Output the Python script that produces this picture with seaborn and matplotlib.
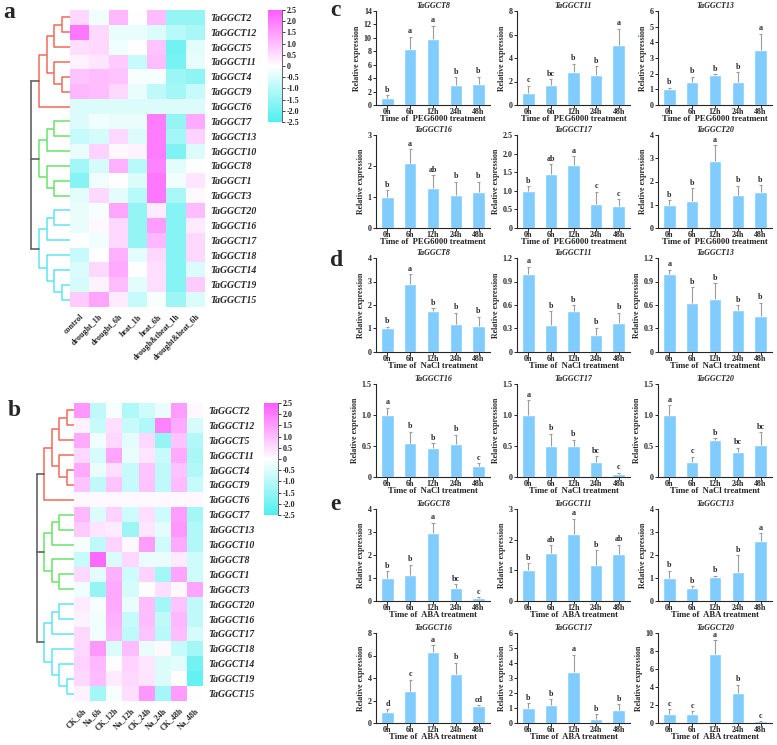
import numpy as np
import pandas as pd
import matplotlib
matplotlib.use("Agg")
import matplotlib.pyplot as plt
from matplotlib.colors import LinearSegmentedColormap
import seaborn as sns

# heatmap rows (display order)
genes = ["TaGGCT2", "TaGGCT12", "TaGGCT5", "TaGGCT11", "TaGGCT4", "TaGGCT9", "TaGGCT6",
         "TaGGCT7", "TaGGCT13", "TaGGCT10", "TaGGCT8", "TaGGCT1", "TaGGCT3",
         "TaGGCT20", "TaGGCT16", "TaGGCT17", "TaGGCT18", "TaGGCT14", "TaGGCT19", "TaGGCT15"]

cond_a = ["control", "drought_1h", "drought_6h", "heat_1h", "heat_6h",
          "drough&theat_1h", "drought&heat_6h"]
vals_a = [
    [0.6, -0.2, 1.1, 0.0, 1.0, -1.5, -1.5],
    [2.1, 0.6, -0.3, -0.3, -0.5, -1.0, -1.2],
    [0.5, 0.6, -0.2, 0.0, 0.9, -2.0, -0.4],
    [0.2, 0.4, 0.8, -0.8, 1.0, -1.9, -0.3],
    [0.9, 1.0, 0.9, -0.1, -0.1, -1.4, -1.6],
    [1.1, 1.0, 0.6, -0.3, -0.9, -1.3, -0.8],
    [-0.5, -0.5, -0.5, -0.5, -0.5, -0.5, -0.5],
    [-0.5, -0.2, -0.3, -0.3, 2.0, -1.5, 1.3],
    [-0.8, -0.6, 0.6, -0.5, 2.0, -1.3, 0.7],
    [-0.3, 0.7, 0.1, 0.2, 2.0, -1.8, -0.5],
    [-1.3, -0.6, 1.2, -1.0, 1.9, -0.4, 0.0],
    [-1.7, -0.2, 0.0, -0.5, 2.1, -0.2, 0.4],
    [-0.4, 0.6, -0.4, -1.0, 2.1, -1.2, 0.1],
    [-0.3, -0.1, 1.4, -1.5, 0.3, -1.7, 1.0],
    [-0.3, 0.1, 0.6, -1.5, 1.5, -1.7, 0.3],
    [0.0, -0.2, 0.6, -1.5, 1.1, -1.7, 0.6],
    [-0.8, 0.0, 1.2, -0.4, 0.6, -1.7, 0.6],
    [-0.5, 0.6, 1.3, 0.0, 0.5, -1.7, -0.5],
    [-0.6, 0.2, 1.0, -0.4, 0.5, -1.7, 0.8],
    [0.8, 1.4, 0.3, -0.8, -0.1, -1.4, -0.5],
]

cond_b = ["CK_6h", "Na_6h", "CK_12h", "Na_12h", "CK_24h", "Na_24h", "CK_48h", "Na_48h"]
vals_b = [
    [1.6, -0.9, -0.1, -1.1, -0.7, -0.3, 1.5, 0.1],
    [0.2, -0.8, 0.5, -0.8, -1.1, 1.9, 1.3, -0.6],
    [1.3, -0.2, 0.6, -0.4, 0.6, -1.5, 0.9, -1.1],
    [0.6, -0.6, 1.4, -0.3, 0.4, -0.8, 1.3, -1.2],
    [1.3, -0.3, 0.5, -0.8, 0.9, -0.9, 0.9, -1.1],
    [0.9, -0.9, 0.9, -0.8, 0.9, -0.9, 1.0, -0.8],
    [0.1, 0.1, 0.1, 0.1, 0.1, 0.1, 0.1, 0.1],
    [1.1, -0.5, 0.7, -0.7, 0.5, -0.7, 1.5, -1.3],
    [0.8, 0.4, 0.3, -1.4, 0.4, -0.4, 1.6, -1.1],
    [-0.1, -0.9, 0.7, 0.1, 1.5, -0.7, 1.3, -1.1],
    [-0.8, 2.3, -0.5, 0.6, -0.3, -0.3, 0.3, -0.7],
    [0.6, -0.4, 1.2, -0.7, 0.7, -1.3, 1.4, -0.7],
    [-0.2, -1.5, 1.3, -0.6, 0.0, 0.5, 0.1, 1.4],
    [0.3, -0.1, 1.3, -0.3, 1.0, -1.3, 0.9, -0.9],
    [0.2, -0.2, 1.2, -0.8, 1.0, -0.9, 1.1, -0.9],
    [0.6, -0.2, 1.1, -0.9, 0.9, -1.0, 1.0, -0.6],
    [0.6, 1.6, -0.5, 1.0, -0.3, 0.1, -0.8, -1.3],
    [0.7, 1.1, 0.0, 0.7, 0.4, -0.5, -0.4, -2.0],
    [0.6, 1.0, 0.3, 0.6, 0.4, -0.5, 0.0, -2.2],
    [0.2, -1.3, -0.1, 0.5, 1.6, -1.3, 1.5, 0.0],
]

# dendrogram: (height, children), leaves are row indices
red_tree = (4, [(3, [(2, [(1, [0, 1]), 2]), (2, [3, (1, [4, 5])])]), 6])
green_tree = (4, [(3, [(2, [7, 8]), 9]), (3, [10, (2, [11, 12])])])
cyan_tree = (4, [(3, [(2, [13, 14]), 15]), (3, [16, (2, [17, (1, [18, 19])])])])
root_height = 5
cluster_colors = ["#F26A5C", "#6BE36B", "#5CE6F0"]

# qPCR bar panels
times = ["0h", "6h", "12h", "24h", "48h"]
bar_genes = ["TaGGCT8", "TaGGCT11", "TaGGCT13", "TaGGCT16", "TaGGCT17", "TaGGCT20"]

peg_vals = [[1.0, 8.4, 9.8, 3.0, 3.1], [1.0, 1.7, 2.8, 2.55, 5.1], [1.0, 1.5, 1.9, 1.5, 3.5],
            [1.0, 2.1, 1.3, 1.05, 1.17], [1.0, 1.45, 1.7, 0.65, 0.6], [1.0, 1.15, 2.9, 1.4, 1.55]]
peg_sd = [[0.5, 1.8, 2.0, 1.1, 1.1], [0.65, 0.5, 0.7, 0.75, 1.4], [0.1, 0.3, 0.05, 0.6, 1.05],
          [0.22, 0.45, 0.4, 0.45, 0.33], [0.12, 0.27, 0.23, 0.33, 0.18], [0.2, 0.57, 0.65, 0.42, 0.3]]
peg_letters = [["b", "a", "a", "b", "b"], ["c", "bc", "b", "b", "a"], ["b", "b", "b", "b", "a"],
               ["b", "a", "ab", "b", "b"], ["b", "ab", "a", "c", "c"], ["b", "b", "a", "b", "b"]]
peg_ymax = [14, 8, 6, 3, 2.5, 4]
peg_step = [2, 2, 1, 1, 0.5, 1]

nacl_vals = [[1.0, 2.9, 1.75, 1.2, 1.1], [1.0, 0.35, 0.52, 0.22, 0.37], [1.0, 0.63, 0.68, 0.53, 0.46],
             [1.0, 0.55, 0.47, 0.54, 0.18], [1.0, 0.5, 0.5, 0.24, 0.05], [1.0, 0.25, 0.6, 0.4, 0.52]]
nacl_sd = [[0.07, 0.4, 0.12, 0.48, 0.4], [0.09, 0.17, 0.08, 0.09, 0.13], [0.05, 0.2, 0.2, 0.07, 0.17],
           [0.12, 0.18, 0.08, 0.14, 0.04], [0.24, 0.2, 0.1, 0.1, 0.02], [0.16, 0.08, 0.03, 0.07, 0.2]]
nacl_letters = [["b", "a", "b", "b", "b"], ["a", "b", "b", "b", "b"], ["a", "b", "b", "b", "b"],
                ["a", "b", "b", "b", "c"], ["a", "b", "b", "bc", "c"], ["a", "c", "b", "bc", "bc"]]
nacl_ymax = [4, 1.2, 1.2, 1.5, 1.5, 1.5]
nacl_step = [1, 0.3, 0.3, 0.5, 0.5, 0.5]

aba_vals = [[1.0, 1.12, 2.97, 0.55, 0.15], [1.0, 1.58, 2.2, 1.17, 1.52], [1.0, 0.57, 1.03, 1.27, 2.62],
            [1.0, 2.85, 6.35, 4.35, 1.55], [1.0, 1.17, 3.4, 0.3, 0.9], [1.0, 1.0, 7.65, 3.3, 0.2]]
aba_sd = [[0.3, 0.46, 0.43, 0.17, 0.02], [0.23, 0.24, 0.48, 0.48, 0.32], [0.32, 0.08, 0.07, 0.73, 0.33],
          [0.25, 1.0, 0.55, 1.0, 0.05], [0.33, 0.43, 1.15, 0.3, 0.35], [0.55, 0.3, 1.55, 0.95, 0.02]]
aba_letters = [["b", "b", "a", "bc", "c"], ["b", "ab", "a", "b", "ab"], ["b", "b", "b", "b", "a"],
               ["d", "c", "a", "b", "cd"], ["b", "b", "a", "b", "b"], ["c", "c", "a", "b", "c"]]
aba_ymax = [4, 3, 4, 8, 6, 10]
aba_step = [1, 1, 1, 2, 1, 2]

sns.set_style("ticks")
plt.rcParams["font.family"] = ["Liberation Serif", "DejaVu Serif"]
plt.rcParams["font.weight"] = "bold"
plt.rcParams["axes.labelweight"] = "bold"
plt.rcParams["axes.titleweight"] = "bold"
plt.rcParams["axes.unicode_minus"] = False

W, H = 777, 745
fig = plt.figure(figsize=(W / 100, H / 100), dpi=100)


def px_axes(x0, y0, x1, y1):
    return fig.add_axes([x0 / W, 1 - y1 / H, (x1 - x0) / W, (y1 - y0) / H])


cmap = LinearSegmentedColormap.from_list("cw", ["#4FEFEF", "#FFFFFF", "#FF5CFF"])


def fmt_tick(v):
    if abs(v) < 1e-9:
        return "0"
    return "%.1f" % v


def draw_node(ax, node, color):
    if isinstance(node, int):
        return node + 0.5, 0
    h, kids = node
    pts = [draw_node(ax, k, color) for k in kids]
    for y, kh in pts:
        ax.plot([kh, h], [y, y], color=color, lw=1.1, solid_capstyle="butt")
    ys = [p[0] for p in pts]
    ax.plot([h, h], [min(ys), max(ys)], color=color, lw=1.1)
    return (min(ys) + max(ys)) / 2, h


def dendro(ax, xmax):
    pts = []
    for tree, col in zip([red_tree, green_tree, cyan_tree], cluster_colors):
        pts.append(draw_node(ax, tree, col))
    for y, kh in pts:
        ax.plot([kh, root_height], [y, y], color="#555555", lw=1.1)
    ys = [p[0] for p in pts]
    ax.plot([root_height, root_height], [min(ys), max(ys)], color="#555555", lw=1.1)
    ax.set_xlim(xmax, 0)
    ax.set_ylim(len(genes), 0)
    ax.axis("off")


def heat(values, conds, box, cbox, dbox, dmax):
    ax = px_axes(*box)
    cax = px_axes(*cbox)
    df = pd.DataFrame(values, index=genes, columns=conds)
    sns.heatmap(df, ax=ax, cmap=cmap, vmin=-2.5, vmax=2.5, cbar_ax=cax, linewidths=0)
    ax.yaxis.tick_right()
    ax.set_yticks(np.arange(len(genes)) + 0.5)
    ax.set_yticklabels(genes, rotation=0, fontsize=7, fontstyle="italic", fontweight="bold")
    ax.set_xticks(np.arange(len(conds)) + 0.5)
    ax.set_xticklabels(conds, rotation=45, ha="right", rotation_mode="anchor",
                       fontsize=5.8, fontweight="bold")
    ax.tick_params(length=0, pad=4)
    ticks = np.arange(-2.5, 2.51, 0.5)
    cax.set_yticks(ticks)
    cax.set_yticklabels([fmt_tick(t) for t in ticks], fontsize=5.8, fontweight="bold")
    cax.tick_params(length=2, width=0.6, pad=1.5, colors="#222222")
    for name, s in cax.spines.items():
        s.set_visible(name == "right")
        s.set_color("#666666")
        s.set_linewidth(0.7)
    dax = px_axes(*dbox)
    dendro(dax, dmax)


heat(vals_a, cond_a, (70, 10, 205, 307), (268, 10, 282, 122), (27, 10, 70, 307), 5.5)
heat(vals_b, cond_b, (74, 403, 203, 701), (264, 403, 278, 515), (33, 403, 74, 701), 5.55)

bar_color = "#80CCFF"
col_x = [(376, 490), (517, 630), (658, 772)]
sections = [
    ("PEG6000", peg_vals, peg_sd, peg_letters, peg_ymax, peg_step, [(11, 105), (135, 228)]),
    ("NaCl", nacl_vals, nacl_sd, nacl_letters, nacl_ymax, nacl_step, [(258, 352), (384, 477)]),
    ("ABA", aba_vals, aba_sd, aba_letters, aba_ymax, aba_step, [(509, 601), (633, 723)]),
]

for trt, vals, sds, lets, ymaxs, steps, rows in sections:
    for k in range(6):
        r, c = divmod(k, 3)
        x0, x1 = col_x[c]
        y0, y1 = rows[r]
        ax = px_axes(x0, y0, x1, y1)
        v = np.array(vals[k])
        e = np.array(sds[k])
        sns.barplot(x=times, y=v, color=bar_color, saturation=1, width=0.55, ax=ax)
        xs = np.arange(len(times))
        ax.vlines(xs, v, v + e, color="#9C9C9C", lw=0.8)
        ax.hlines(v + e, xs - 0.07, xs + 0.07, color="#9C9C9C", lw=0.8)
        ymax = ymaxs[k]
        for xi, top, lab in zip(xs, v + e, lets[k]):
            ax.text(xi, top + ymax * 0.015, lab, ha="center", va="bottom",
                    fontsize=5.8, fontweight="bold")
        ax.set_xlim(-0.5, 4.5)
        ax.set_ylim(0, ymax)
        yt = np.arange(0, ymax + steps[k] / 2, steps[k])
        ax.set_yticks(yt)
        if steps[k] >= 1:
            ax.set_yticklabels([str(int(round(t))) for t in yt])
        else:
            ax.set_yticklabels([fmt_tick(t) for t in yt])
        ax.tick_params(axis="both", labelsize=5.8, length=2, width=0.7, pad=1)
        ax.tick_params(axis="x", pad=0.5)
        for lab in ax.get_xticklabels() + ax.get_yticklabels():
            lab.set_fontweight("bold")
        ax.set_xlabel("Time of  %s treatment" % trt, fontsize=6.2, labelpad=-1)
        ax.set_ylabel("Relative expression", fontsize=5.7, labelpad=2)
        ax.set_title(bar_genes[k], fontsize=5.8, fontstyle="italic", fontweight="bold", pad=2)
        sns.despine(ax=ax)
        for s in ax.spines.values():
            s.set_linewidth(0.8)

for lab, x, y in [("a", 3, 2), ("b", 8, 400), ("c", 330, 0), ("d", 330, 250), ("e", 330, 494)]:
    fig.text(x / W, 1 - y / H, lab, fontsize=17, fontweight="bold", ha="left", va="top")

fig.savefig("out.png", dpi=100)
